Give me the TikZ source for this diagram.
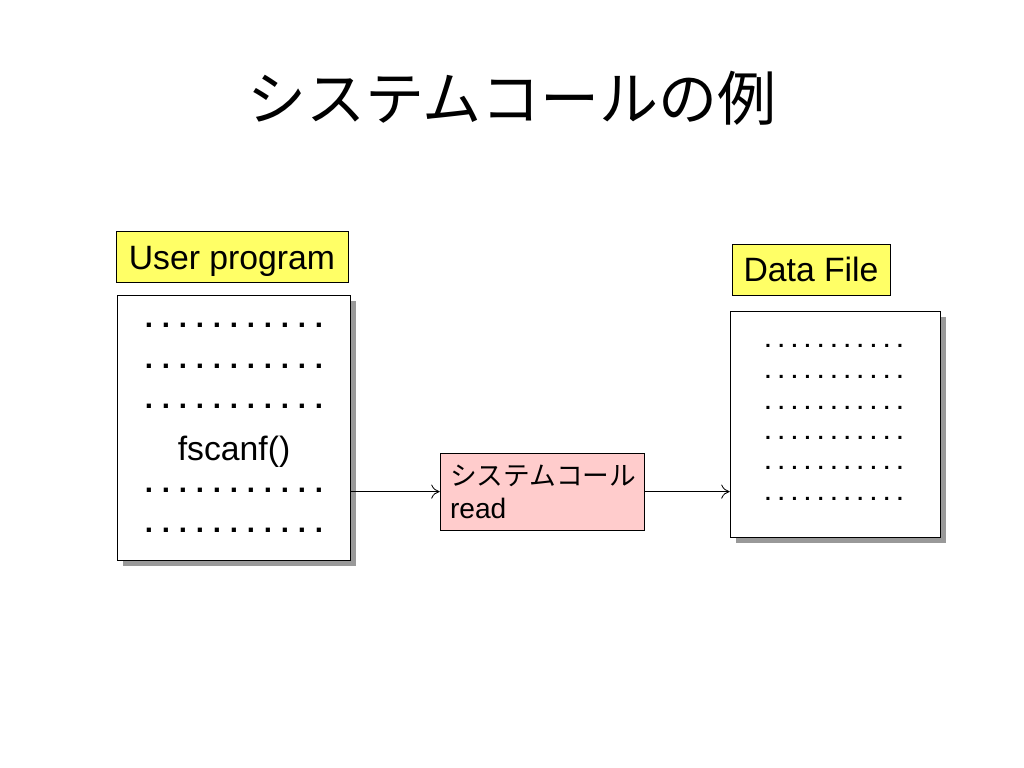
\documentclass[tikz,border=0pt]{standalone}
\usepackage{fontspec}
\setmainfont{Liberation Sans}
\newfontfamily\jp{Noto Sans CJK JP}
\usetikzlibrary{arrows.meta, shadows}
\definecolor{labelyellow}{RGB}{255,255,102}
\definecolor{callpink}{RGB}{255,204,204}
\tikzstyle{labelnode} = [rectangle, draw=black, fill=labelyellow, inner sep=0pt, font=\fontsize{24}{28}\selectfont]
\tikzstyle{pagenode} = [rectangle, draw=black, fill=white, inner sep=0pt, drop shadow={shadow xshift=4.5pt, shadow yshift=-4.5pt, fill=black, opacity=0.4}]
\tikzstyle{callnode} = [rectangle, draw=black, fill=callpink, minimum width=5.1cm, minimum height=1.925cm, text width=4.6cm, align=left, font=\fontsize{20}{23.5}\selectfont]
\tikzstyle{progdots} = [font=\bfseries\fontsize{21}{21}\selectfont]
\tikzstyle{filedots} = [font=\bfseries\fontsize{15}{15}\selectfont]
\tikzstyle{arrow} = [semithick,-{To[length=6pt,width=10pt]}]
\newcommand{\dotrow}[1]{\foreach \k in {1,...,10}{.\hspace{#1}}.}

\begin{document}
\begin{tikzpicture}
    \useasboundingbox (0,0) rectangle (25.6,-19.2);
        \node (title) at (12.8,-2.45) {\jp\fontsize{42}{48}\selectfont システムコールの例};

        \node (proglabel) [labelnode, minimum width=5.8cm, minimum height=1.275cm] at (5.8,-6.41) {\raisebox{-3.5pt}[\height][\depth]{User program}};
        \node (prog) [pagenode, minimum width=5.825cm, minimum height=6.625cm] at (5.84,-10.69) {};
        \node (p1) [progdots] at (5.85,-8.13) {\dotrow{0.22cm}};
        \node (p2) [progdots] at (5.85,-9.15) {\dotrow{0.22cm}};
        \node (p3) [progdots] at (5.85,-10.15) {\dotrow{0.22cm}};
        \node (call) [font=\fontsize{24}{28}\selectfont] at (5.85,-11.3) {fscanf()};
        \node (p4) [progdots] at (5.85,-12.25) {\dotrow{0.22cm}};
        \node (p5) [progdots] at (5.85,-13.25) {\dotrow{0.22cm}};

        \node (sys) [callnode] at (13.55,-12.29) {{\jp\fontsize{19}{23.5}\selectfont システムコール}\\read};

        \node (filelabel) [labelnode, minimum width=3.95cm, minimum height=1.275cm] at (20.275,-6.74) {Data File};
        \node (file) [pagenode, minimum width=5.25cm, minimum height=5.65cm] at (20.875,-10.6) {};
        \node (f1) [filedots] at (20.85,-8.65) {\dotrow{0.183cm}};
        \node (f2) [filedots] at (20.85,-9.43) {\dotrow{0.183cm}};
        \node (f3) [filedots] at (20.85,-10.2) {\dotrow{0.183cm}};
        \node (f4) [filedots] at (20.85,-10.95) {\dotrow{0.183cm}};
        \node (f5) [filedots] at (20.85,-11.7) {\dotrow{0.183cm}};
        \node (f6) [filedots] at (20.85,-12.48) {\dotrow{0.183cm}};

        \draw [arrow] (prog.east |- sys.west) -- (sys.west);
        \draw [arrow] (sys.east) -- (sys.east -| file.west);
    \end{tikzpicture}
\end{document}
